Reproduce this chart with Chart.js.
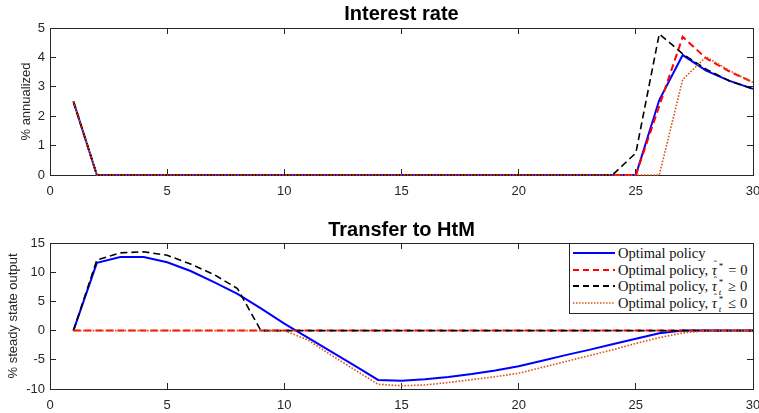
<!DOCTYPE html>
<html>
<head>
<meta charset="utf-8">
<script src="https://cdn.jsdelivr.net/npm/chart.js@4.4.1/dist/chart.umd.min.js"></script>
<style>
  html, body { margin: 0; padding: 0; background: #fff; }
  body { width: 759px; height: 413px; position: relative; overflow: hidden; }
  .wrap { position: absolute; left: 0; width: 759px; }
  #legend {
    position: absolute; left: 569px; top: 243px; width: 183px; height: 69px;
    border: 1px solid #262626; background: #fff;
    font-family: "Liberation Serif", "DejaVu Serif", serif; font-size: 14.5px; color: #111;
  }
  .row { position: absolute; left: 0; height: 16px; line-height: 16px; white-space: nowrap; }
  .row svg { position: absolute; left: 3px; top: 3px; }
  .row span.t { position: absolute; left: 48px; top: 0; }
  .tau { position: relative; font-style: italic; display: inline-block; width: 7px; }
  .tau .hat { position: absolute; left: 2px; top: -5px; font-style: normal; font-size: 10px; }
  .ss { display: inline-block; position: relative; width: 6px; height: 10px; }
  .ss .sp { position: absolute; left: 0; top: -3px; font-size: 9px; line-height: 9px; }
  .ss .sb { position: absolute; left: 0; top: 7px; font-size: 9px; line-height: 9px; font-style: italic; }
</style>
</head>
<body>
<div class="wrap" style="top:0;height:206px"><canvas id="top" width="759" height="206"></canvas></div>
<div class="wrap" style="top:206px;height:207px"><canvas id="bottom" width="759" height="207"></canvas></div>
<div id="legend">
  <div class="row" style="top:1px"><svg width="44" height="10"><line x1="0" y1="5" x2="42" y2="5" stroke="#0000ff" stroke-width="2"/></svg><span class="t">Optimal policy</span></div>
  <div class="row" style="top:17.5px"><svg width="44" height="10"><line x1="0" y1="5" x2="42" y2="5" stroke="#ff0000" stroke-width="2" stroke-dasharray="6,4"/></svg><span class="t">Optimal policy, <span class="tau">τ<span class="hat">ˆ</span></span><span class="ss"><span class="sp">*</span></span> = 0</span></div>
  <div class="row" style="top:34px"><svg width="44" height="10"><line x1="0" y1="5" x2="42" y2="5" stroke="#000" stroke-width="2" stroke-dasharray="6,4"/></svg><span class="t">Optimal policy, <span class="tau">τ<span class="hat">ˆ</span></span><span class="ss"><span class="sp">*</span><span class="sb">t</span></span> ≥ 0</span></div>
  <div class="row" style="top:50.5px"><svg width="44" height="10"><line x1="0" y1="5" x2="42" y2="5" stroke="#d95319" stroke-width="1.5" stroke-dasharray="1.5,1.5"/></svg><span class="t">Optimal policy, <span class="tau">τ<span class="hat">ˆ</span></span><span class="ss"><span class="sp">*</span><span class="sb">t</span></span> ≤ 0</span></div>
</div>
<script>
const periods = [1,2,3,4,5,6,7,8,9,10,11,12,13,14,15,16,17,18,19,20,21,22,23,24,25,26,27,28,29,30]

// Interest rate (% annualized)
const rateOptimal  = [2.5,0,0,0,0,0,0,0,0,0,0,0,0,0,0,0,0,0,0,0,0,0,0,0,0,2.55,4.08,3.55,3.2,2.93]
const rateZero     = [2.5,0,0,0,0,0,0,0,0,0,0,0,0,0,0,0,0,0,0,0,0,0,0,0,0,2.35,4.7,3.97,3.52,3.15]
const rateNonNeg   = [2.5,0,0,0,0,0,0,0,0,0,0,0,0,0,0,0,0,0,0,0,0,0,0,0,0.75,4.8,4.12,3.6,3.2,2.93]
const rateNonPos   = [2.5,0,0,0,0,0,0,0,0,0,0,0,0,0,0,0,0,0,0,0,0,0,0,0,0,0,3.25,4.02,3.55,3.15]

// Transfer to HtM (% steady state output)
const trOptimal = [0,11.6,12.6,12.6,11.7,10.2,8.3,6.3,3.8,1.2,-1.2,-3.6,-6.0,-8.45,-8.6,-8.35,-7.95,-7.45,-6.85,-6.1,-5.15,-4.2,-3.3,-2.35,-1.4,-0.45,0,0,0,0]
const trZero    = [0,0,0,0,0,0,0,0,0,0,0,0,0,0,0,0,0,0,0,0,0,0,0,0,0,0,0,0,0,0]
const trNonNeg  = [0,12.1,13.3,13.5,12.9,11.4,9.6,7.2,0,0,0,0,0,0,0,0,0,0,0,0,0,0,0,0,0,0,0,0,0,0]
const trNonPos  = [0,0,0,0,0,0,0,0,0,0,-1.6,-4.2,-6.7,-9.2,-9.45,-9.3,-8.9,-8.4,-7.9,-7.3,-6.3,-5.3,-4.3,-3.3,-2.2,-1.2,-0.4,0,0,0]

const xTicks = [0,5,10,15,20,25,30]

const axisColor = '#262626'
const sans = 'Liberation Sans, Arial, sans-serif'
const tickFont = { family: sans, size: 13 }

const pts = arr => periods.map((p, i) => ({ x: p, y: arr[i] }))

// MATLAB style: box on all four sides, ticks pointing inward
const boxGrid = { display: true, drawOnChartArea: false, drawTicks: true, tickLength: -6, color: axisColor, lineWidth: 1 }
const boxBorder = { display: true, color: axisColor, width: 1 }

function makeChart(id, title, titleH, titlePadTop, yTitle, yTitlePad, yMin, yMax, yStep, series, xHeight) {
  const styles = [
    { label: 'Optimal policy', color: '#0000ff', width: 2, dash: [], order: 3 },
    { label: 'Optimal policy, zero', color: '#ff0000', width: 2, dash: [7, 4], order: 2 },
    { label: 'Optimal policy, nonneg', color: '#000000', width: 1.6, dash: [7, 4], order: 1 },
    { label: 'Optimal policy, nonpos', color: '#d95319', width: 1.6, dash: [1.6, 1.6], order: 0 }
  ]
  const xFix = h => s => { s.height = h; s.paddingLeft = 0; s.paddingRight = 0 }
  const setXTicks = s => { s.ticks = xTicks.map(v => ({ value: v })) }
  return new Chart(document.getElementById(id).getContext('2d'), {
    type: 'line',
    data: {
      datasets: series.map((s, i) => ({
        label: styles[i].label,
        data: pts(s),
        borderColor: styles[i].color,
        borderWidth: styles[i].width,
        borderDash: styles[i].dash,
        order: styles[i].order,
        pointRadius: 0,
        tension: 0,
        fill: false,
        clip: 2
      }))
    },
    options: {
      responsive: false,
      devicePixelRatio: 1,
      animation: false,
      layout: { padding: { left: 0, right: 6, top: 0, bottom: 0 } },
      plugins: {
        legend: { display: false },
        tooltip: { enabled: false },
        title: { display: false }
      },
      scales: {
        x: {
          type: 'linear',
          position: 'bottom',
          min: 0, max: 30,
          afterBuildTicks: setXTicks,
          afterFit: xFix(xHeight),
          grid: boxGrid,
          border: boxBorder,
          ticks: { color: axisColor, font: tickFont, padding: 15, maxRotation: 0 }
        },
        xTop: {
          type: 'linear',
          position: 'top',
          min: 0, max: 30,
          afterBuildTicks: setXTicks,
          afterFit: xFix(titleH),
          grid: boxGrid,
          border: boxBorder,
          ticks: { display: false },
          title: {
            display: true,
            text: title,
            color: '#000',
            font: { family: sans, size: 20, weight: 'bold', lineHeight: 1.2 },
            padding: { top: titlePadTop, bottom: 0 }
          }
        },
        y: {
          position: 'left',
          min: yMin, max: yMax,
          afterFit: s => { s.width = 50 },
          grid: boxGrid,
          border: boxBorder,
          ticks: { stepSize: yStep, color: axisColor, font: tickFont, padding: 11 },
          title: {
            display: true,
            text: yTitle,
            color: axisColor,
            font: { family: sans, size: 13, lineHeight: 1.2 },
            padding: { top: yTitlePad, bottom: 0 }
          }
        },
        yRight: {
          position: 'right',
          min: yMin, max: yMax,
          afterFit: s => { s.width = 0 },
          grid: boxGrid,
          border: boxBorder,
          ticks: { display: false, stepSize: yStep }
        }
      }
    }
  })
}

makeChart('top', 'Interest rate', 28, 2.5, '% annualized', 19, 0, 5, 1,
  [rateOptimal, rateZero, rateNonNeg, rateNonPos], 31)
makeChart('bottom', 'Transfer to HtM', 37, 12, '% steady state output', 6, -10, 15, 5,
  [trOptimal, trZero, trNonNeg, trNonPos], 24)
</script>
</body>
</html>
